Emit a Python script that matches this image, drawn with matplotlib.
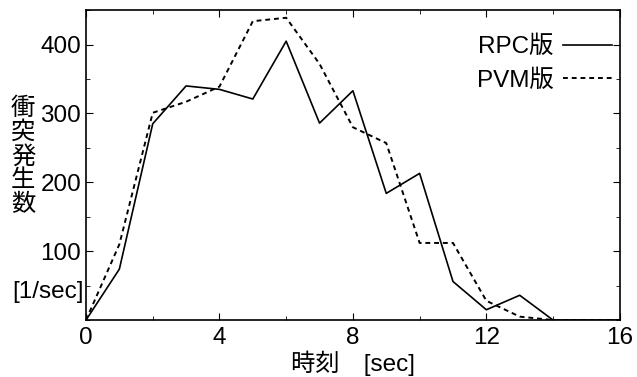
import matplotlib.pyplot as plt
from matplotlib.ticker import MultipleLocator

plt.rcParams['font.family'] = ['Liberation Sans', 'Noto Sans CJK JP']

t = [0, 1, 2, 3, 4, 5, 6, 7, 8, 9, 10, 11, 12, 13, 14, 15, 16]
rpc = [0, 74, 285, 340, 335, 321, 405, 286, 333, 184, 213, 56, 15, 36, 0, 0, 0]
pvm = [0, 110, 301, 317, 339, 434, 439, 372, 280, 257, 112, 112, 28, 5, 0, 0, 0]

yticks = [100, 200, 300, 400]

fig = plt.figure(figsize=(6.37, 3.77), dpi=100)
ax = fig.add_axes([0.135, 0.151, 0.838, 0.822])

ax.plot(t, rpc, color='black', lw=1.2, label='RPC版')
ax.plot(t, pvm, color='black', lw=1.4, linestyle=(0, (2.5, 2)), label='PVM版')

ax.set_xlim(0, 16)
ax.set_ylim(0, 450)
ax.set_xticks([0, 4, 8, 12, 16])
ax.xaxis.set_minor_locator(MultipleLocator(2))
ax.set_yticks(yticks)
ax.yaxis.set_minor_locator(MultipleLocator(50))
ax.tick_params(which='both', direction='in', top=True, right=True, labelsize=17.5)
ax.tick_params(axis='x', which='major', pad=5)
ax.tick_params(which='major', length=5)
ax.tick_params(which='minor', length=3)
for s in ax.spines.values():
    s.set_linewidth(1.2)

ax.set_xlabel('時刻\u3000[sec]', fontsize=17.5, labelpad=1)
fig.text(0.036, 0.584, '\n'.join('衝突発生数'), fontsize=17.5, ha='center', va='center',
         linespacing=1.1)
fig.text(0.131, 0.225, '[1/sec]', fontsize=17.5, ha='right', va='center')

leg = ax.legend(loc='upper right', bbox_to_anchor=(0.985, 0.918), frameon=False,
                markerfirst=False, fontsize=17.5, handlelength=2.0, handletextpad=0.4,
                labelspacing=0.45, borderaxespad=0, borderpad=0)

fig.savefig('out.png', dpi=100)
